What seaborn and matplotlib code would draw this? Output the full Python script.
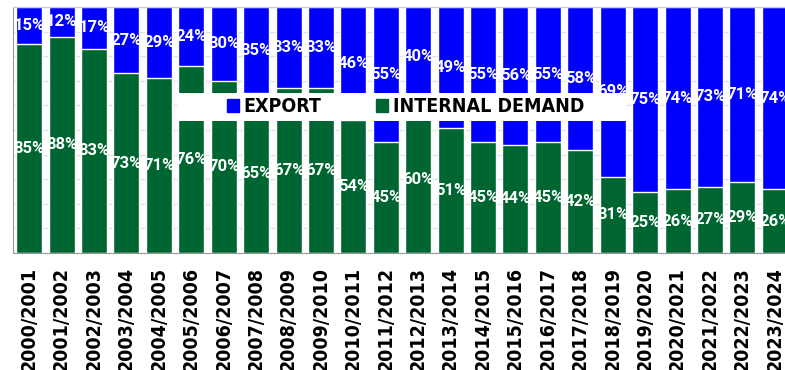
import numpy as np
import pandas as pd
import matplotlib
matplotlib.use("Agg")
import matplotlib.pyplot as plt
from matplotlib.patches import Rectangle
import seaborn as sns

# --- data ---
seasons = ["2000/2001", "2001/2002", "2002/2003", "2003/2004", "2004/2005",
           "2005/2006", "2006/2007", "2007/2008", "2008/2009", "2009/2010",
           "2010/2011", "2011/2012", "2012/2013", "2013/2014", "2014/2015",
           "2015/2016", "2016/2017", "2017/2018", "2018/2019", "2019/2020",
           "2020/2021", "2021/2022", "2022/2023", "2023/2024"]
export = [15, 12, 17, 27, 29, 24, 30, 35, 33, 33, 46, 55,
          40, 49, 55, 56, 55, 58, 69, 75, 74, 73, 71, 74]
internal = [85, 88, 83, 73, 71, 76, 70, 65, 67, 67, 54, 45,
            60, 51, 45, 44, 45, 42, 31, 25, 26, 27, 29, 26]

df = pd.DataFrame({"season": seasons, "export": export, "internal": internal})
df["total"] = df["export"] + df["internal"]

blue = "#0000FF"
green = "#006631"

sns.set_style("white")
plt.rcParams["font.family"] = ["Roboto", "DejaVu Sans"]

fig = plt.figure(figsize=(7.85, 3.70), dpi=100)
# axes runs slightly past the right edge, like the reference crop
ax = fig.add_axes([13 / 785, 117 / 370, 778 / 785, 246 / 370])

# stacked bars: full (export on top) then internal demand over it
sns.barplot(data=df, x="season", y="total", color=blue, width=0.8,
            saturation=1, ax=ax, zorder=2)
sns.barplot(data=df, x="season", y="internal", color=green, width=0.8,
            saturation=1, ax=ax, zorder=2)

# value labels
for i, row in df.iterrows():
    ax.text(i, row["internal"] + row["export"] / 2, f"{row['export']}%",
            ha="center", va="center", color="white", fontsize=12,
            fontweight="bold", zorder=3)
    ax.text(i, row["internal"] / 2, f"{row['internal']}%",
            ha="center", va="center", color="white", fontsize=12,
            fontweight="bold", zorder=3)

ax.set_ylim(0, 100)
ax.set_xlim(-0.5, len(seasons) - 0.5)
ax.set_yticks(np.arange(0, 101, 10))
ax.set_yticklabels([])
ax.tick_params(axis="y", length=0)
ax.yaxis.grid(True, color="#e3e3e3", linewidth=1, zorder=0)
ax.set_axisbelow(True)

ax.set_xticks(range(len(seasons)))
ax.set_xticklabels(seasons, rotation=90, fontsize=14, fontweight="bold",
                   family=["DejaVu Sans"], fontstretch="condensed",
                   color="black")
ax.tick_params(axis="x", which="major", length=0, pad=10)
ax.set_xticks(np.arange(-0.5, len(seasons), 1), minor=True)
ax.tick_params(axis="x", which="minor", length=6, color="#888888", width=1)
ax.set_xlabel("")
ax.set_ylabel("")

for side in ["left", "bottom"]:
    ax.spines[side].set_color("#999999")
ax.spines["top"].set_color("#cccccc")
ax.spines["right"].set_visible(False)

# white legend band across the middle
band = Rectangle((0.212, 0.537), 0.576, 0.113, transform=ax.transAxes,
                 facecolor="white", edgecolor="none", zorder=4)
ax.add_patch(band)
handles = [Rectangle((0, 0), 1, 1, color=blue), Rectangle((0, 0), 1, 1, color=green)]
leg = ax.legend(handles, ["EXPORT", "INTERNAL DEMAND"], loc="center",
                bbox_to_anchor=(0.5045, 0.594), ncol=2, frameon=False,
                handlelength=0.6, handleheight=0.6, handletextpad=0.26,
                columnspacing=2.8, labelcolor="black",
                prop={"family": "DejaVu Sans", "weight": "bold",
                      "stretch": "condensed", "size": 14})
leg.set_zorder(5)

fig.savefig("out.png", dpi=100)
